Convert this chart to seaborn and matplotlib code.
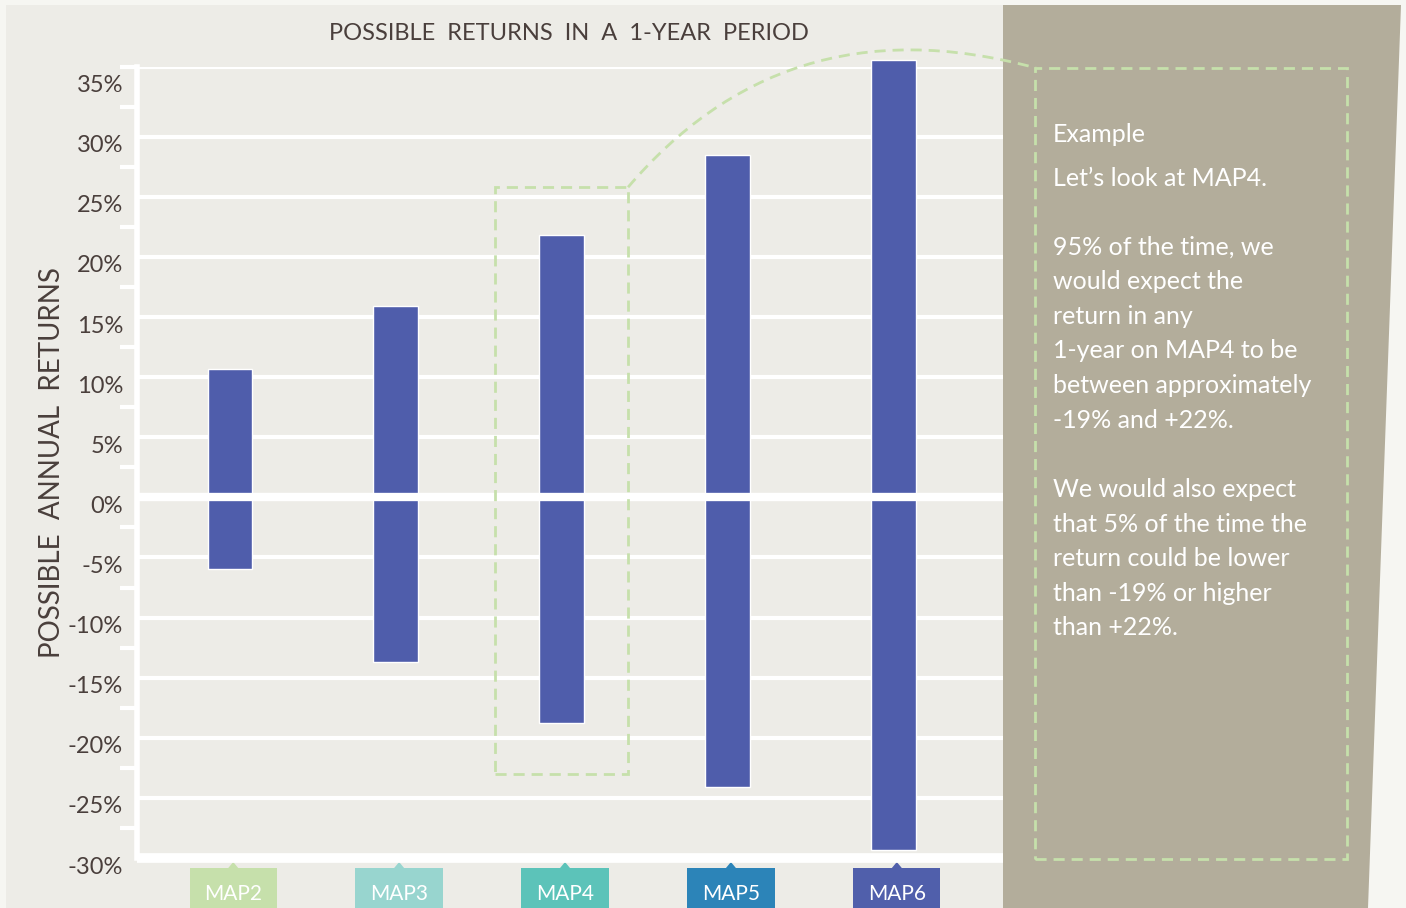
import numpy as np
import pandas as pd
import seaborn as sns
import matplotlib.pyplot as plt
from matplotlib.patches import Polygon, Rectangle, PathPatch
from matplotlib.path import Path
import matplotlib.transforms as mtransforms

# Data
maps = ["MAP2", "MAP3", "MAP4", "MAP5", "MAP6"]
highs = [10.7, 15.9, 21.8, 28.5, 36.4]
lows = [-6.0, -13.7, -18.8, -24.1, -29.3]
label_colors = ["#c6e0ab", "#98d5cf", "#5cc3b9", "#2c84b8", "#505fab"]
yticks = [-30, -25, -20, -15, -10, -5, 0, 5, 10, 15, 20, 25, 30, 35]

note_lines = [
    "Example",
    "Let\u2019s look at MAP4.",
    "",
    "95% of the time, we",
    "would expect the",
    "return in any",
    "1-year on MAP4 to be",
    "between approximately",
    "-19% and +22%.",
    "",
    "We would also expect",
    "that 5% of the time the",
    "return could be lower",
    "than -19% or higher",
    "than +22%.",
]

df = pd.DataFrame({"fund": maps, "high": highs, "low": lows})

sns.set_theme(style="white")
plt.rcParams["font.family"] = ["Lato", "DejaVu Sans"]

BAR = "#4f5dab"
TXT = "#4a3f3c"
GREEN = "#c6e0ab"
W, H = 1406, 908
YTOP = 35.8

def fx(px):
    return px / W

def fy(py):
    return 1 - py / H

fig = plt.figure(figsize=(W / 100, H / 100), dpi=100)
fig.patch.set_facecolor("#f6f6f2")

# panel backgrounds
fig.add_artist(Rectangle((fx(6), 0), fx(1003) - fx(6), fy(5), transform=fig.transFigure,
                         facecolor="#edece7", edgecolor="none", zorder=-2))
fig.add_artist(Polygon([(fx(1003), fy(5)), (fx(1401), fy(5)), (fx(1368), fy(908)), (fx(1003), fy(908))],
                       closed=True, transform=fig.transFigure, facecolor="#b3ad9b",
                       edgecolor="none", zorder=-2))

ax = fig.add_axes([fx(137), fy(858), fx(1003) - fx(137), fy(67) - fy(858)])
ax.set_facecolor("#edece7")

sns.barplot(data=df, x="fund", y="high", color=BAR, saturation=1, width=0.27,
            errorbar=None, ax=ax, zorder=3)
sns.barplot(data=df, x="fund", y="low", color=BAR, saturation=1, width=0.27,
            errorbar=None, ax=ax, zorder=3)
for p in ax.patches:
    p.set_clip_on(False)

ax.set_xlim(-0.56, 4.66)
ax.set_ylim(-30, YTOP)
ax.set_yticks(yticks)
ax.set_yticklabels([f"{v}%" for v in yticks], color=TXT, fontsize=17)
# tick marks: every 2.5% below 35%, plus the top edge
marks = [v for v in np.arange(-30, 35, 2.5)] + [YTOP]
ax.set_yticks(marks, minor=True)
ax.tick_params(axis="y", which="major", length=0, pad=10)
ax.tick_params(axis="y", which="minor", length=12, width=3, color="white", left=True)
ax.set_xticks([])
ax.set_xlabel("")
ax.set_ylabel("POSSIBLE  ANNUAL  RETURNS", color=TXT, fontsize=20)
ax.yaxis.set_label_coords(-0.083, 0.5)
off = mtransforms.ScaledTranslation(0, -7 / 100, fig.dpi_scale_trans)
for lab in ax.get_yticklabels():
    lab.set_transform(lab.get_transform() + off)

for y in yticks[:-1]:
    ax.axhline(y, color="white", lw=3, zorder=1)
ax.axhline(YTOP, color="white", lw=3, zorder=1)
ax.axhline(0, color="white", lw=6, zorder=4, solid_capstyle="butt")

for side in ["top", "right"]:
    ax.spines[side].set_visible(False)
ax.spines["left"].set_color("white")
ax.spines["left"].set_linewidth(4)
ax.spines["bottom"].set_color("white")
ax.spines["bottom"].set_linewidth(7)
ax.spines["bottom"].set_capstyle("butt")

# category label boxes under the axis
trans = mtransforms.blended_transform_factory(ax.transData, ax.transAxes)
bh = 791
for i, (name, col) in enumerate(zip(maps, label_colors)):
    xc = i + 0.02
    hw = 0.263
    ax.add_patch(Rectangle((xc - hw, -60 / bh), 2 * hw, 50 / bh, transform=trans,
                           facecolor=col, edgecolor="none", clip_on=False))
    ax.add_patch(Polygon([(xc - 0.03, -10 / bh), (xc + 0.03, -10 / bh), (xc, -4 / bh)],
                         closed=True, transform=trans, facecolor=col, edgecolor="none",
                         clip_on=False))
    ax.text(xc, -36 / bh, name, transform=trans, ha="center", va="center",
            color="white", fontsize=15)

fig.text(fx(569), fy(34), "POSSIBLE  RETURNS  IN  A  1-YEAR  PERIOD", ha="center",
         va="center", color=TXT, fontsize=17)

# highlight around MAP4 and the connector to the note
dash = (0, (4, 2.5))
box_l, box_r, box_b, box_t = 2 - 0.40, 2 + 0.40, -23.0, 25.8
ax.add_patch(Rectangle((box_l, box_b), box_r - box_l, box_t - box_b, facecolor="none",
                       edgecolor=GREEN, lw=2, linestyle=dash, zorder=5, clip_on=False))
sx, sy = ax.transData.transform((box_r, box_t))
ex, ey = fig.transFigure.transform((fx(1036), fy(68)))
verts = [(sx, sy), (sx + 100, H - 70), (860, H - 20), (ex, ey)]
curve = Path(verts, [Path.MOVETO, Path.CURVE4, Path.CURVE4, Path.CURVE4])
fig.add_artist(PathPatch(curve, transform=mtransforms.IdentityTransform(), facecolor="none",
                         edgecolor=GREEN, lw=2, linestyle=dash, zorder=6))
fig.add_artist(Rectangle((fx(1035), fy(859)), fx(1347) - fx(1035), fy(68) - fy(859),
                         transform=fig.transFigure, facecolor="none", edgecolor=GREEN,
                         lw=2, linestyle=dash, zorder=6))

for k, line in enumerate(note_lines):
    py = 135 if k == 0 else 178 + (k - 1) * 34.6
    fig.text(fx(1053), fy(py), line, ha="left", va="center", color="white", fontsize=18)

fig.savefig("out.png", dpi=100, facecolor=fig.get_facecolor())
